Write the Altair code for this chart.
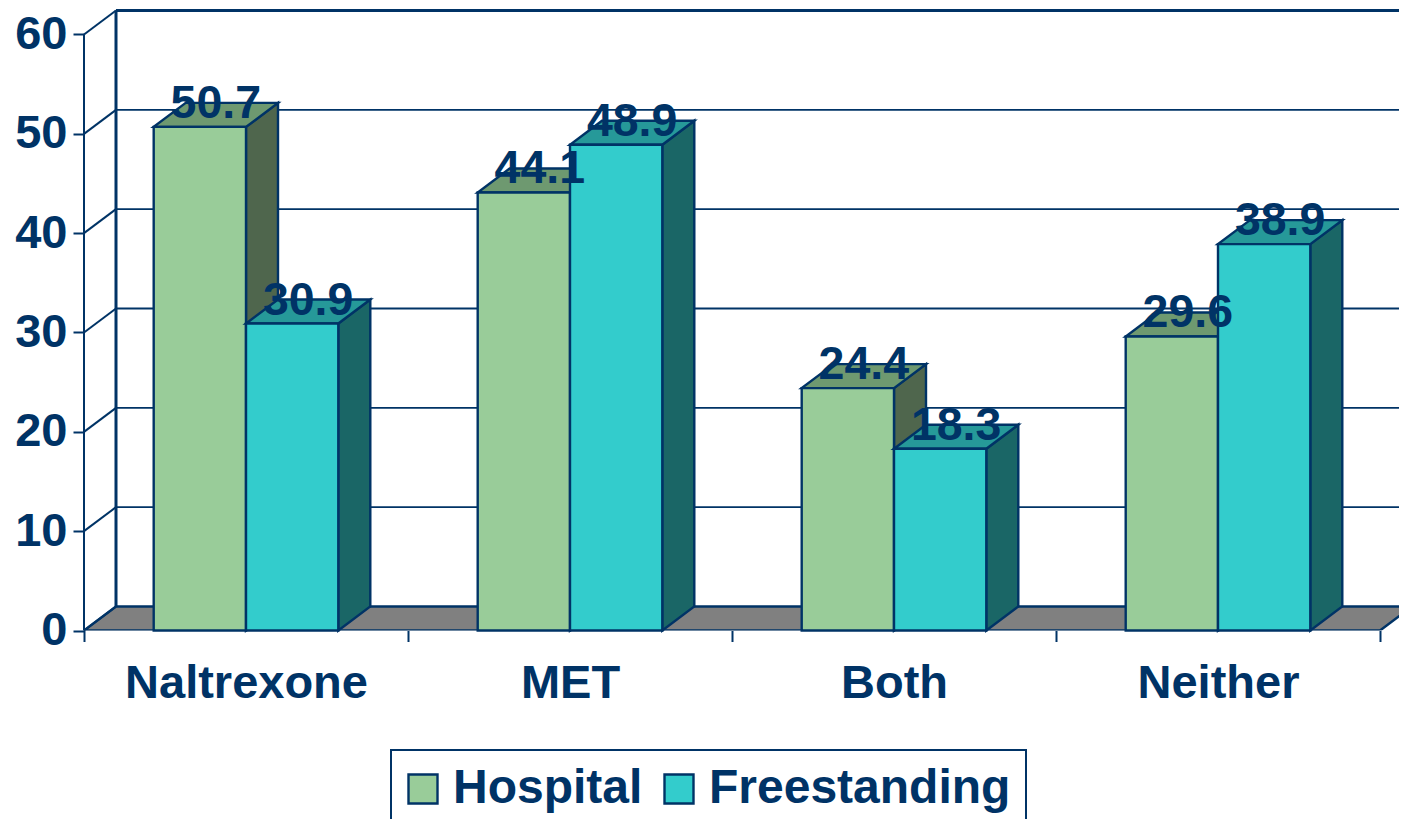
import altair as alt
import pandas as pd

categories = ["Naltrexone", "MET", "Both", "Neither"]
hospital = [50.7, 44.1, 24.4, 29.6]
freestanding = [30.9, 48.9, 18.3, 38.9]
y_ticks = [0, 10, 20, 30, 40, 50, 60]
series = ["Hospital", "Freestanding"]

NAVY = "#003366"
FONT = "Liberation Sans"
FRONT = {"Hospital": "#99CC99", "Freestanding": "#33CCCC"}
SIDE = {"Hospital": "#4F664D", "Freestanding": "#1A6666"}
TOP = {"Hospital": "#6E9970", "Freestanding": "#269999"}

PLOT_W, PLOT_H = 1315, 620.5
PITCH = 324
DX = 32 / PITCH        # 3-D depth in category units
DY = 24 / 9.933        # 3-D depth in value units
BAR_W = 92.3 / PITCH
XMAX = PLOT_W / PITCH
YMAX = 60 + DY + 0.05

xs = alt.Scale(domain=[0, XMAX], range=[0, PLOT_W], nice=False, zero=False)
ys = alt.Scale(domain=[0, YMAX], range=[PLOT_H, 0], nice=False, zero=False)

x_axis = alt.Axis(
    values=[0, 0.5, 1, 1.5, 2, 2.5, 3, 3.5, 4], domain=False, grid=False,
    tickSize=11, tickWidth=2, tickColor=NAVY,
    tickOpacity={"condition": {"test": "datum.value % 1 === 0", "value": 1}, "value": 0},
    labelExpr="datum.value % 1 === 0 ? '' : " + str(categories) + "[floor(datum.value)]",
    labelFont=FONT, labelFontSize=47, labelFontWeight="bold", labelColor=NAVY, labelLimit=600,
    labelPadding=19, labelFlush=False, labelOverlap=False, labelBound=False, title=None,
)
y_axis = alt.Axis(
    values=y_ticks, domain=False, grid=False, tickSize=11, tickWidth=2, tickColor=NAVY,
    labelFont=FONT, labelFontSize=47, labelFontWeight="bold", labelColor=NAVY,
    labelPadding=6, labelOverlap=False, labelBound=False, labelFlush=False, title=None,
)


def X(field="x"):
    return alt.X(field, type="quantitative", scale=xs, axis=x_axis)


def Y(field="y"):
    return alt.Y(field, type="quantitative", scale=ys, axis=y_axis)


X2 = alt.X2("x2")
Y2 = alt.Y2("y2")

# walls and floor
floor = pd.DataFrame([
    {"x": 0, "y": 0, "y2": 0},
    {"x": DX, "y": 0, "y2": DY},
    {"x": 4, "y": 0, "y2": DY},
    {"x": 4 + DX, "y": DY, "y2": DY},
])
floor_layer = alt.Chart(floor).mark_area(
    color="#808080", stroke=NAVY, strokeWidth=2.5, clip=True
).encode(x=X(), y=Y(), y2=Y2)

grid = pd.DataFrame([{"x": DX, "x2": XMAX, "y": t + DY} for t in y_ticks[1:]])
grid_layer = alt.Chart(grid).mark_rule(color=NAVY, strokeWidth=1.8).encode(x=X(), x2=X2, y=Y())
top_line = alt.Chart(grid[grid.y == grid.y.max()]).mark_rule(color=NAVY, strokeWidth=3).encode(x=X(), x2=X2, y=Y())

diag = pd.DataFrame(
    [{"t": t, "x": 0, "y": t} for t in y_ticks] + [{"t": t, "x": DX, "y": t + DY} for t in y_ticks]
)
diag_layer = alt.Chart(diag).mark_line(color=NAVY, strokeWidth=2).encode(x=X(), y=Y(), detail="t:N")

front_axis = alt.Chart(pd.DataFrame([{"x": 0, "y": 0, "y2": 60}])).mark_rule(color=NAVY, strokeWidth=2).encode(x=X(), y=Y(), y2=Y2)
back_wall = alt.Chart(pd.DataFrame([{"x": DX, "y": DY, "y2": 60 + DY}])).mark_rule(color=NAVY, strokeWidth=3).encode(x=X(), y=Y(), y2=Y2)

layers = [grid_layer, top_line, floor_layer, diag_layer, front_axis, back_wall]
labels = []

for s, (name, values) in enumerate(zip(series, [hospital, freestanding])):
    side_rows, top_rows, front_rows = [], [], []
    for i, (cat, v) in enumerate(zip(categories, values)):
        left = i + 0.5 - BAR_W + s * BAR_W
        right = left + BAR_W
        side_rows += [
            {"b": cat, "x": right, "y": 0, "y2": v},
            {"b": cat, "x": right + DX, "y": DY, "y2": v + DY},
        ]
        top_rows += [
            {"b": cat, "x": left, "y": v, "y2": v},
            {"b": cat, "x": left + DX, "y": v, "y2": v + DY},
            {"b": cat, "x": right, "y": v, "y2": v + DY},
            {"b": cat, "x": right + DX, "y": v + DY, "y2": v + DY},
        ]
        front_rows.append({"series": name, "x": left, "x2": right, "y": 0, "y2": v})
        labels.append({"x": (left + right + DX) / 2, "y": v + DY, "text": f"{v:.1f}"})

    layers.append(
        alt.Chart(pd.DataFrame(side_rows)).mark_area(
            color=SIDE[name], stroke=NAVY, strokeWidth=2.4
        ).encode(x=X(), y=Y(), y2=Y2, detail="b:N")
    )
    layers.append(
        alt.Chart(pd.DataFrame(top_rows)).mark_area(
            color=TOP[name], stroke=NAVY, strokeWidth=2.4
        ).encode(x=X(), y=Y(), y2=Y2, detail="b:N")
    )
    layers.append(
        alt.Chart(pd.DataFrame(front_rows)).mark_rect(stroke=NAVY, strokeWidth=2.4).encode(
            x=X(), x2=X2, y=Y(), y2=Y2,
            color=alt.Color(
                "series:N",
                scale=alt.Scale(domain=series, range=[FRONT[k] for k in series]),
                legend=alt.Legend(
                    title=None, orient="none", legendX=307, legendY=740, direction="horizontal",
                    columns=2, padding=15, strokeColor=NAVY, symbolType="square", symbolSize=841,
                    symbolStrokeColor=NAVY, symbolStrokeWidth=2.4, symbolOpacity=1,
                    labelFont=FONT, labelFontSize=48, labelFontWeight="bold", labelColor=NAVY,
                    labelLimit=500, labelOffset=6, symbolOffset=-7, columnPadding=16,
                ),
            ),
        )
    )

label_layer = alt.Chart(pd.DataFrame(labels)).mark_text(
    font=FONT, fontSize=46.5, fontWeight="bold", color=NAVY, baseline="middle", dy=1
).encode(x=X(), y=Y(), text="text:N")
layers.append(label_layer)

chart = alt.layer(*layers).properties(
    width=PLOT_W, height=PLOT_H,
    padding={"left": 76, "top": 2, "right": 0, "bottom": 188},
    autosize=alt.AutoSizeParams(type="none"),
).configure_view(stroke=None).configure_legend(strokeWidth=2)

chart.save("out.html", embed_options={"renderer": "svg", "actions": False})
